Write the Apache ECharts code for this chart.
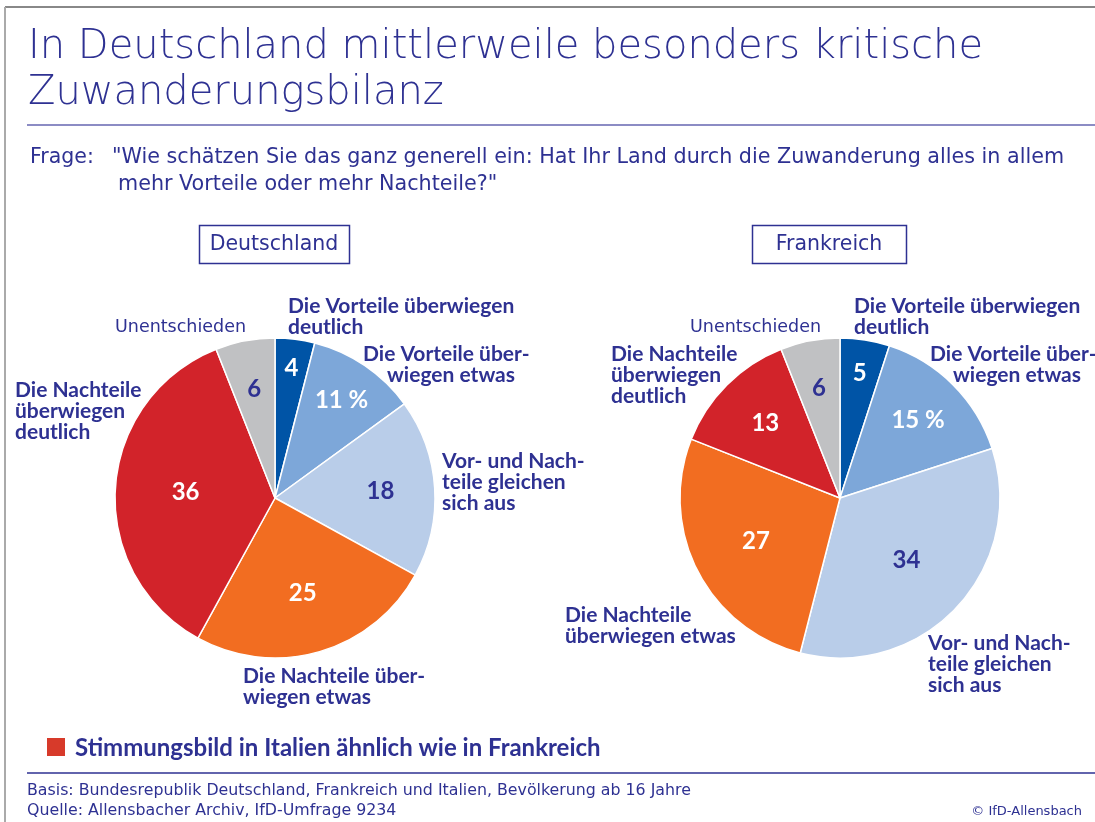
<!DOCTYPE html>
<html>
<head>
<meta charset="utf-8">
<script src="https://cdn.jsdelivr.net/npm/echarts@6/dist/echarts.min.js"></script>
<style>
  html, body { margin: 0; padding: 0; background: #fff; }
  #chart { width: 1095px; height: 822px; }
</style>
</head>
<body>
<div id="chart"></div>
<script>
// Daten (Prozent), im Uhrzeigersinn ab 12 Uhr
const categories = [
    'Die Vorteile überwiegen deutlich',
    'Die Vorteile überwiegen etwas',
    'Vor- und Nachteile gleichen sich aus',
    'Die Nachteile überwiegen etwas',
    'Die Nachteile überwiegen deutlich',
    'Unentschieden'
];
const deutschlandValues = [4, 11, 18, 25, 36, 6];
const frankreichValues = [5, 15, 34, 27, 13, 6];
const valueLabelsDE = ['4', '11 %', '18', '25', '36', '6'];
const valueLabelsFR = ['5', '15 %', '34', '27', '13', '6'];

const BLUE = '#2e3192';
const REG = '"DejaVu Sans", sans-serif';
const BOLD = 'Lato, "DejaVu Sans", sans-serif';
const sliceColors = ['#0054a6', '#7da7d9', '#b9cde9', '#f26d21', '#d2232a', '#c0c1c3'];
const innerTextColors = ['#fff', '#fff', BLUE, '#fff', '#fff', BLUE];
// wie weit die Zahl nach außen sitzt (Anteil vom Radius)
const labelRadiusDE = [0.82, 0.74, 0.66, 0.62, 0.56, 0.69];
const labelRadiusFR = [0.79, 0.69, 0.57, 0.59, 0.66, 0.70];

const RADIUS = 160;
const pieCenters = [[275, 498], [840, 498]];

const chart = echarts.init(document.getElementById('chart'));

function buildData(values, texts) {
    return values.map(function (v, i) {
        return {
            name: categories[i],
            value: v,
            itemStyle: { color: sliceColors[i] },
            label: { formatter: texts[i], color: innerTextColors[i] }
        };
    });
}

function pieSeries(values, texts, center, radiusFrac) {
    return {
        type: 'pie',
        center: center,
        radius: [0, RADIUS],
        startAngle: 90,
        clockwise: true,
        silent: true,
        itemStyle: { borderColor: '#fff', borderWidth: 1.5 },
        label: {
            show: true,
            position: 'inside',
            fontFamily: BOLD,
            fontWeight: 'bold',
            fontSize: 24
        },
        labelLine: { show: false },
        labelLayout: function (p) {
            // Zahl von r/2 radial auf gewünschten Radius schieben
            const r = p.labelRect;
            const cx = r.x + r.width / 2, cy = r.y + r.height / 2;
            const dx0 = cx - center[0], dy0 = cy - center[1];
            const k = radiusFrac[p.dataIndex] * RADIUS / Math.sqrt(dx0 * dx0 + dy0 * dy0) - 1;
            return { dx: dx0 * k, dy: dy0 * k };
        },
        data: buildData(values, texts)
    };
}

function txt(x, y, text, font, extra) {
    const style = Object.assign({ text: text, fill: BLUE, font: font, textVerticalAlign: 'middle' }, extra || {});
    return { type: 'text', x: x, y: y, style: style };
}

// Beschriftung außen, y = Mitte der ersten Zeile
function textBlock(x, y, lines, bold, xs) {
    return lines.map(function (line, i) {
        return txt(xs ? xs[i] : x, y + i * 21.3, line, bold ? 'bold 21px ' + BOLD : '17.5px ' + REG);
    });
}

const graphics = [].concat(
    // Rahmen und Trennlinien
    [{ type: 'line', shape: { x1: 5, y1: 7, x2: 1095, y2: 7 }, style: { stroke: '#888', lineWidth: 2 } },
     { type: 'line', shape: { x1: 5, y1: 7, x2: 5, y2: 822 }, style: { stroke: '#aaa', lineWidth: 2 } },
     { type: 'line', shape: { x1: 27, y1: 125, x2: 1095, y2: 125 }, style: { stroke: '#8c8cc4', lineWidth: 2 } },
     { type: 'line', shape: { x1: 27, y1: 773, x2: 1095, y2: 773 }, style: { stroke: BLUE, lineWidth: 1.5 } }],
    // Titel
    [txt(28, 48, 'In Deutschland mittlerweile besonders kritische', '200 40px ' + REG),
     txt(28, 94, 'Zuwanderungsbilanz', '200 40px ' + REG)],
    // Frage
    [txt(30, 158, 'Frage:', '20.5px ' + REG),
     txt(112, 158, '"Wie schätzen Sie das ganz generell ein: Hat Ihr Land durch die Zuwanderung alles in allem', '20.7px ' + REG),
     txt(118, 185, 'mehr Vorteile oder mehr Nachteile?"', '20.7px ' + REG)],
    // Länderkästen
    [{ type: 'rect', shape: { x: 199.5, y: 225.5, width: 150, height: 38 }, style: { fill: 'none', stroke: BLUE, lineWidth: 1.5 } },
     txt(274, 245, 'Deutschland', '20.5px ' + REG, { textAlign: 'center' }),
     { type: 'rect', shape: { x: 752.5, y: 225.5, width: 154, height: 38 }, style: { fill: 'none', stroke: BLUE, lineWidth: 1.5 } },
     txt(829, 245, 'Frankreich', '20.5px ' + REG, { textAlign: 'center' })],
    // Deutschland
    textBlock(288, 306, ['Die Vorteile überwiegen', 'deutlich'], true),
    textBlock(0, 354, ['Die Vorteile über-', 'wiegen etwas'], true, [363, 387]),
    textBlock(442, 461, ['Vor- und Nach-', 'teile gleichen', 'sich aus'], true),
    textBlock(243, 676, ['Die Nachteile über-', 'wiegen etwas'], true),
    textBlock(15, 390, ['Die Nachteile', 'überwiegen', 'deutlich'], true),
    textBlock(115, 327, ['Unentschieden'], false),
    // Frankreich
    textBlock(854, 306, ['Die Vorteile überwiegen', 'deutlich'], true),
    textBlock(0, 354, ['Die Vorteile über-', 'wiegen etwas'], true, [930, 953]),
    textBlock(928, 643, ['Vor- und Nach-', 'teile gleichen', 'sich aus'], true),
    textBlock(565, 615, ['Die Nachteile', 'überwiegen etwas'], true),
    textBlock(611, 354, ['Die Nachteile', 'überwiegen', 'deutlich'], true),
    textBlock(690, 327, ['Unentschieden'], false),
    // Hinweis Italien
    [{ type: 'rect', shape: { x: 47, y: 738, width: 18, height: 18 }, style: { fill: '#d73a2a' } },
     txt(75, 748, 'Stimmungsbild in Italien ähnlich wie in Frankreich', 'bold 24px ' + BOLD)],
    // Fußzeile
    [txt(27, 791, 'Basis: Bundesrepublik Deutschland, Frankreich und Italien, Bevölkerung ab 16 Jahre', '15.8px ' + REG),
     txt(27, 811, 'Quelle: Allensbacher Archiv, IfD-Umfrage 9234', '15.8px ' + REG),
     txt(1082, 812, '© IfD-Allensbach', '13px ' + REG, { textAlign: 'right' })]
);

const option = {
    backgroundColor: '#fff',
    animation: false,
    graphic: graphics,
    series: [
        pieSeries(deutschlandValues, valueLabelsDE, pieCenters[0], labelRadiusDE),
        pieSeries(frankreichValues, valueLabelsFR, pieCenters[1], labelRadiusFR)
    ]
};

chart.setOption(option);
</script>
</body>
</html>
